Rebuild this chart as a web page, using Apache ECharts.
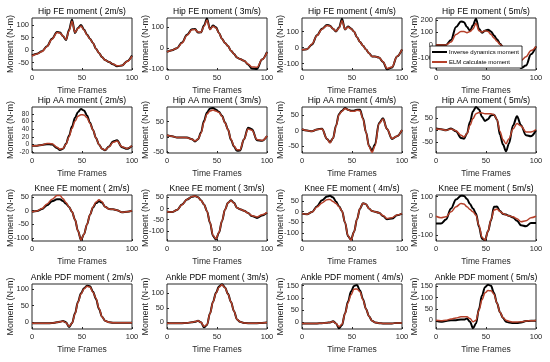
<!DOCTYPE html>
<html><head><meta charset="utf-8">
<script src="https://cdn.jsdelivr.net/npm/echarts@6/dist/echarts.min.js"></script>
<style>html,body{margin:0;padding:0;background:#fff}#c{width:550px;height:362px}</style>
</head><body><div id="c"></div>
<script>
// ---------- data ----------
const frames = [0,5,10,15,20,25,28,31,34,37,40,43,46,49,52,55,58,61,64,67,70,73,77,81,85,90,95,100];
const xTicks = [0,50,100];
const seriesNames = ['Inverse dynamics moment','ELM calculate moment'];
const titles = [
  'Hip FE moment ( 2m/s)','Hip FE moment ( 3m/s)','Hip FE moment ( 4m/s)','Hip FE moment ( 5m/s)',
  'Hip AA moment ( 2m/s)','Hip AA moment ( 3m/s)','Hip AA moment ( 4m/s)','Hip AA moment ( 5m/s)',
  'Knee FE moment ( 2m/s)','Knee FE moment ( 3m/s)','Knee FE moment ( 4m/s)','Knee FE moment ( 5m/s)',
  'Ankle PDF moment ( 2m/s)','Ankle PDF moment ( 3m/s)','Ankle PDF moment ( 4m/s)','Ankle PDF moment ( 5m/s)'
];
const xLabel = 'Time Frames';
const yLabel = 'Moment (N-m)';

const hipFE2_ID  = [-22,-15,-5,15,45,72,70,55,40,80,122,68,88,100,82,62,45,28,5,-12,-28,-40,-48,-57,-65,-62,-45,-22];
const hipFE2_ELM = [-24,-16,-6,14,43,70,68,56,42,76,115,70,86,96,80,60,44,28,5,-12,-28,-40,-48,-56,-63,-62,-46,-25];
const hipFE3_ID  = [-18,-10,0,27,64,91,92,75,76,109,142,91,109,100,73,45,25,10,-12,-28,-45,-52,-60,-78,-98,-100,-55,-18];
const hipFE3_ELM = [-18,-10,0,25,62,88,90,78,76,105,135,90,105,97,72,45,25,10,-12,-28,-45,-52,-60,-76,-90,-92,-55,-20];
const hipFE4_ID  = [-14,-10,20,77,118,142,137,118,101,125,180,113,132,120,101,65,35,12,-12,-35,-55,-55,-62,-90,-135,-125,-55,-12];
const hipFE4_ELM = [-14,-10,22,75,115,138,135,118,103,122,168,115,128,118,100,65,35,12,-12,-35,-55,-55,-62,-88,-130,-122,-55,-12];
const hipFE5_ID  = [0,0,0,39,143,188,182,143,113,158,210,128,98,113,122,107,75,45,10,-20,-40,-60,-90,-130,-185,-165,-75,-12];
const hipFE5_ELM = [0,0,0,24,84,107,107,98,107,128,173,113,104,113,107,84,55,30,5,-15,-40,-60,-85,-115,-125,-95,-45,-12];

const hipAA2_ID  = [-3,-3,-1,1,0,-9,-14,-11,2,23,47,70,85,93,89,76,57,38,17,0,-11,-15,-5,8,11,-7,-11,-3];
const hipAA2_ELM = [-3,-3,-1,3,2,-7,-12,-10,1,20,42,61,74,78,77,70,55,38,17,0,-11,-14,-6,6,9,-6,-10,-3];
const hipAA3_ID  = [5,2,-2,-2,-2,-8,-15,-8,14,53,80,93,95,89,82,69,47,24,-10,-32,-46,-45,-8,30,25,-11,-13,3];
const hipAA3_ELM = [5,2,-2,-2,-3,-8,-13,-8,12,48,75,85,88,85,80,68,46,24,-8,-30,-42,-42,-8,26,22,-9,-12,3];
const hipAA4_ID  = [5,0,-2,4,6,-27,-38,-25,16,54,65,74,68,65,65,68,68,40,-5,-50,-65,-45,25,40,5,-27,-18,2];
const hipAA4_ELM = [5,0,-2,4,5,-27,-40,-25,14,52,63,72,68,63,63,66,65,38,-5,-52,-71,-50,22,38,5,-26,-18,2];
const hipAA5_ID  = [7,4,0,7,-4,-32,-35,-14,35,79,97,87,56,39,46,62,65,45,-20,-60,-88,-55,20,58,21,-21,-25,0];
const hipAA5_ELM = [5,4,0,5,-2,-21,-28,-14,21,49,69,74,72,69,69,69,65,45,-5,-40,-56,-35,5,28,18,-7,-7,3];

const kneeFE2_ID  = [-4,-1,6,20,35,42,42,36,26,14,-4,-33,-75,-108,-87,-51,-15,12,28,35,30,15,6,5,2,-6,-4,0];
const kneeFE2_ELM = [-4,-1,8,25,42,56,56,44,30,14,-4,-33,-75,-108,-87,-51,-15,14,32,40,33,15,6,5,2,-6,-4,0];
const kneeFE3_ID  = [-15,-16,-7,18,40,52,55,50,37,18,-12,-64,-123,-138,-108,-56,-5,25,37,25,3,-3,-10,-20,-34,-42,-31,-19];
const kneeFE3_ELM = [-15,-16,-7,17,40,53,56,50,36,18,-12,-62,-120,-135,-106,-55,-5,25,34,24,3,-3,-10,-20,-32,-38,-28,-17];
const kneeFE4_ID  = [-9,-12,-2,26,53,71,74,67,48,26,3,-50,-115,-130,-95,-35,15,40,35,15,3,0,-5,-20,-35,-32,-17,-9];
const kneeFE4_ELM = [-9,-12,-2,22,41,56,57,48,38,23,3,-50,-112,-133,-95,-35,15,40,35,15,3,0,-5,-18,-32,-28,-15,-9];
const kneeFE5_ID  = [-40,-40,-19,38,85,104,103,87,61,38,12,-57,-118,-125,-80,-23,47,48,25,10,7,0,-8,-25,-49,-54,-37,-37];
const kneeFE5_ELM = [-2,-10,-5,21,47,64,61,47,33,21,3,-50,-110,-125,-80,-20,30,36,22,12,5,0,-5,-15,-30,-25,-10,-2];

const ankle2_ID  = [-3,-3,-3,-3,-2,0,2,4,0,-14,-3,27,62,87,102,110,108,92,70,40,17,5,0,-1,-1,-1,-1,-1];
const ankle2_ELM = [-3,-3,-3,-3,-2,0,2,3,-1,-12,-3,25,60,85,100,108,106,90,72,42,17,5,0,-1,-1,-1,-1,-1];
const ankle3_ID  = [-3,-3,-3,-3,-2,0,2,5,0,-17,-9,31,71,102,123,131,120,98,70,38,10,2,-2,-3,-3,-3,-2,-1];
const ankle3_ELM = [-3,-3,-3,-3,-2,0,3,5,0,-14,-8,30,70,100,121,129,119,97,70,38,10,2,-2,-3,-3,-3,-2,-1];
const ankle4_ID  = [-4,-4,-4,-4,-3,-1,0,5,-4,-24,-11,37,85,126,149,153,130,95,55,25,7,0,-3,-4,-5,-4,-2,-2];
const ankle4_ELM = [-4,-4,-4,-4,-3,-1,0,4,-5,-18,-8,35,80,112,136,137,125,92,55,25,7,0,-3,-4,-5,-4,-2,-2];
const ankle5_ID  = [-3,-7,-4,0,0,3,3,7,-7,-36,-15,51,109,146,157,152,120,75,35,10,-7,-10,-12,-12,-10,-4,-3,-3];
const ankle5_ELM = [0,-2,0,5,10,15,15,15,7,-7,0,44,90,121,131,130,115,75,35,12,0,-5,-8,-8,-7,-4,-2,-1];

const idSeries  = [hipFE2_ID,hipFE3_ID,hipFE4_ID,hipFE5_ID,hipAA2_ID,hipAA3_ID,hipAA4_ID,hipAA5_ID,
                   kneeFE2_ID,kneeFE3_ID,kneeFE4_ID,kneeFE5_ID,ankle2_ID,ankle3_ID,ankle4_ID,ankle5_ID];
const elmSeries = [hipFE2_ELM,hipFE3_ELM,hipFE4_ELM,hipFE5_ELM,hipAA2_ELM,hipAA3_ELM,hipAA4_ELM,hipAA5_ELM,
                   kneeFE2_ELM,kneeFE3_ELM,kneeFE4_ELM,kneeFE5_ELM,ankle2_ELM,ankle3_ELM,ankle4_ELM,ankle5_ELM];

const yTicks = [
  [-50,0,50,100],[-100,0,100],[-100,0,100],[-100,0,100,200],
  [-20,0,20,40,60,80],[-50,0,50],[-50,0,50],[-50,0,50],
  [-100,-50,0,50],[-100,-50,0,50],[-100,-50,0,50],[-100,0,100],
  [0,50,100],[0,50,100],[0,50,100,150],[0,50,100,150]
];
const yMin = [-80,-105,-140,-200, -22,-53,-73,-95, -112,-145,-137,-130, -20,-23,-27,-39];
const yMax = [128,145,185,215, 98,98,77,97, 58,60,78,108, 115,132,157,160];

// ---------- layout ----------
const colLeft = [32,167,302,436];
const plotW = 100;
const rowTop = [18,107,195,284];
const rowH = [52,46,46,45];
const FONT = '"Liberation Sans", Arial, sans-serif';
const AXC = '#262626';
const ELM_COLOR = '#b5402a';

const grids=[], xAxes=[], yAxes=[], series=[], graphics=[];
for (let i=0;i<16;i++){
  const r=Math.floor(i/4), c=i%4;
  const dense = yTicks[i].length > 4;
  grids.push({left:colLeft[c], top:rowTop[r], width:plotW, height:rowH[r], show:true,
    borderColor:AXC, borderWidth:1, backgroundColor:'#fff', containLabel:false});
  xAxes.push({gridIndex:i, type:'value', min:0, max:100, interval:50,
    axisLine:{show:false, onZero:false}, splitLine:{show:false},
    axisTick:{show:true, inside:true, length:2, lineStyle:{color:AXC}},
    axisLabel:{fontSize:7.5, color:AXC, fontFamily:FONT, margin:4, customValues:xTicks},
    name:xLabel, nameLocation:'middle', nameGap:16,
    nameTextStyle:{fontSize:8.5, color:AXC, fontFamily:FONT}});
  yAxes.push({gridIndex:i, type:'value', min:yMin[i], max:yMax[i],
    axisLine:{show:false, onZero:false}, splitLine:{show:false},
    axisTick:{show:true, inside:true, length:2, customValues:yTicks[i], lineStyle:{color:AXC}},
    axisLabel:{fontSize:dense?6.5:7.5, lineHeight:dense?6:8, color:AXC, fontFamily:FONT, margin:3,
      customValues:yTicks[i], hideOverlap:false},
    name:yLabel, nameLocation:'middle', nameGap:17, nameRotate:90, nameMoveOverlap:false,
    nameTextStyle:{fontSize:9, color:AXC, fontFamily:FONT}});
  series.push({type:'line', name:seriesNames[0], xAxisIndex:i, yAxisIndex:i,
    data:frames.map((f,k)=>[f,idSeries[i][k]]), symbol:'none', smooth:0.35, smoothMonotone:'x',
    lineStyle:{color:'#000', width:2}, itemStyle:{color:'#000'}, clip:true});
  series.push({type:'line', name:seriesNames[1], xAxisIndex:i, yAxisIndex:i,
    data:frames.map((f,k)=>[f,elmSeries[i][k]]), symbol:'none', smooth:0.35, smoothMonotone:'x',
    lineStyle:{color:ELM_COLOR, width:1.5}, itemStyle:{color:ELM_COLOR}, clip:true});
  graphics.push({type:'text', x:colLeft[c]+plotW/2, y:rowTop[r]-6,
    style:{text:titles[i], fontSize:8.5, fontFamily:FONT, fill:'#000',
      align:'center', verticalAlign:'middle', textAlign:'center', textVerticalAlign:'middle'}});
}

const chart = echarts.init(document.getElementById('c'), null, {renderer:'canvas'});
chart.setOption({
  animation:false,
  backgroundColor:'#fff',
  grid:grids, xAxis:xAxes, yAxis:yAxes, series:series, graphic:graphics,
  legend:{data:seriesNames, orient:'vertical', left:430, top:46, icon:'rect', itemWidth:15, itemHeight:2, itemGap:4,
    padding:[3,3,3,2], backgroundColor:'#fff', borderColor:'#000', borderWidth:0.8,
    textStyle:{fontSize:6, fontFamily:FONT, color:'#000', padding:[0,0,0,-3]}}
});
</script></body></html>
